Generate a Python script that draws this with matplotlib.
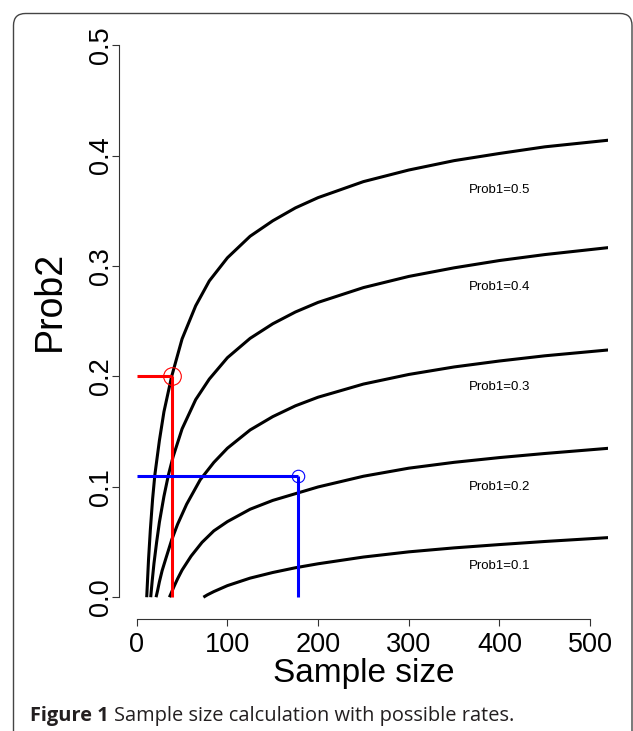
import matplotlib
matplotlib.use('Agg')
import matplotlib.pyplot as plt
from matplotlib.patches import FancyBboxPatch
from matplotlib.transforms import IdentityTransform

plt.rcParams['font.family'] = ['Liberation Sans', 'DejaVu Sans']

# curves: (sample size, Prob2) for each Prob1
n_05 = [11, 13, 15, 17.5, 20, 25, 30, 38.5, 50, 65, 80, 100, 125, 150, 175, 200, 250, 300, 350, 400, 450, 520]
p_05 = [0, 0.034, 0.061, 0.089, 0.111, 0.142, 0.168, 0.200, 0.234, 0.264, 0.2865, 0.3075, 0.327, 0.341, 0.3527,
        0.362, 0.3765, 0.387, 0.3955, 0.402, 0.408, 0.414]

n_04 = [15.4, 17, 19, 22, 25, 30, 35, 40, 50, 65, 80, 100, 125, 150, 175, 200, 250, 300, 350, 400, 450, 520]
p_04 = [0, 0.0144, 0.0306, 0.0503, 0.068, 0.0914, 0.111, 0.127, 0.1525, 0.179, 0.1976, 0.217, 0.2345, 0.2477,
        0.2584, 0.2671, 0.2805, 0.2906, 0.2984, 0.305, 0.3104, 0.3167]

n_03 = [21.3, 23, 25, 28, 32, 38.6, 45, 55, 70, 85, 100, 125, 150, 175, 200, 250, 300, 350, 400, 450, 520]
p_03 = [0, 0.006, 0.014, 0.0241, 0.0348, 0.0521, 0.066, 0.0842, 0.1064, 0.1221, 0.135, 0.1515, 0.1636, 0.1734,
        0.1812, 0.1931, 0.2018, 0.2086, 0.214, 0.2187, 0.224]

n_02 = [36, 38, 41, 45, 50, 60, 72, 85, 100, 125, 150, 175, 200, 250, 300, 350, 400, 450, 520]
p_02 = [0, 0.0037, 0.0095, 0.0166, 0.0246, 0.0373, 0.0497, 0.0601, 0.0685, 0.0797, 0.0877, 0.0938, 0.0999,
        0.1096, 0.1169, 0.1222, 0.1265, 0.1302, 0.1349]

n_01 = [73.5, 78, 85, 100, 125, 150, 175, 200, 250, 300, 350, 400, 450, 520]
p_01 = [0, 0.0022, 0.0051, 0.0105, 0.0173, 0.0224, 0.0267, 0.0303, 0.0364, 0.0411, 0.0447, 0.0477, 0.0505, 0.054]

curves = [(n_05, p_05), (n_04, p_04), (n_03, p_03), (n_02, p_02), (n_01, p_01)]

labels = ['Prob1=0.5', 'Prob1=0.4', 'Prob1=0.3', 'Prob1=0.2', 'Prob1=0.1']
label_n = 400
label_p = [0.369, 0.281, 0.190, 0.0996, 0.0286]

# the two worked examples
red_n, red_p = 38.5, 0.2
blue_n, blue_p = 177.5, 0.11

xticks = [0, 100, 200, 300, 400, 500]
yticks = [0.0, 0.1, 0.2, 0.3, 0.4, 0.5]

W, H = 633, 731
fig = plt.figure(figsize=(W / 100, H / 100), dpi=100)

# plot region in pixels
L, R, T, B = 118.6, 608.3, 23.2, 619.3
ax = fig.add_axes([L / W, 1 - B / H, (R - L) / W, (B - T) / H])
ax.set_xlim(-20, 520)
ax.set_ylim(-0.02, 0.52)

for n, p in curves:
    ax.plot(n, p, color='black', lw=2.2, solid_capstyle='butt', solid_joinstyle='round')

for txt, p in zip(labels, label_p):
    ax.text(label_n, p, txt, fontsize=9.5, ha='center', va='center')

ax.plot([0, red_n], [red_p, red_p], color='red', lw=2.2, solid_capstyle='butt')
ax.plot([red_n, red_n], [red_p, 0], color='red', lw=2.2, solid_capstyle='butt')
ax.plot([red_n], [red_p], 'o', ms=12.7, mfc='none', mec='red', mew=0.8)

ax.plot([0, blue_n], [blue_p, blue_p], color='blue', lw=2.2, solid_capstyle='butt')
ax.plot([blue_n, blue_n], [blue_p, 0], color='blue', lw=2.2, solid_capstyle='butt')
ax.plot([blue_n], [blue_p], 'o', ms=9, mfc='none', mec='blue', mew=0.8)

# R style axes
for s in ['top', 'right']:
    ax.spines[s].set_visible(False)
ax.spines['left'].set_bounds(0, 0.5)
ax.spines['bottom'].set_bounds(0, 500)
for s in ['left', 'bottom']:
    ax.spines[s].set_linewidth(0.8)
    ax.spines[s].set_color('#333333')

ax.set_xticks(xticks)
ax.set_xticklabels([str(t) for t in xticks], fontsize=19.5)
ax.set_yticks(yticks)
ax.set_yticklabels(['%.1f' % t for t in yticks], fontsize=19.5, rotation=90,
                   ha='center', va='baseline', rotation_mode='anchor')
ax.tick_params(axis='x', direction='out', length=5, width=0.8, color='#333333', pad=4.5)
ax.tick_params(axis='y', direction='out', length=5, width=0.8, color='#333333', pad=2.6)

ax.set_xlabel('Sample size', fontsize=24)
ax.xaxis.set_label_coords(0.5, (B - 658) / (B - T))
ax.set_ylabel('Prob2', fontsize=27, va='baseline')
ax.yaxis.set_label_coords((60 - L) / (R - L), (B - 301) / (B - T))

# frame round the figure
frame = FancyBboxPatch((13.5, H - 760), 632 - 13.5, 760 - 13.5,
                       boxstyle='round,pad=0,rounding_size=12',
                       transform=IdentityTransform(), fill=False,
                       ec='#444444', lw=1.0)
fig.add_artist(frame)

# caption
cap1 = fig.text(30 / W, 1 - 720.5 / H, 'Figure 1', fontsize=14.4, fontweight='bold',
                family=['Open Sans', 'DejaVu Sans'], color='#231f20', va='baseline')
fig.canvas.draw()
bb = cap1.get_window_extent()
fig.text((bb.x1 + 5) / W, 1 - 720.5 / H, 'Sample size calculation with possible rates.',
         fontsize=14.4, family=['Open Sans', 'DejaVu Sans'], color='#231f20', va='baseline')

fig.savefig('out.png', dpi=100)
